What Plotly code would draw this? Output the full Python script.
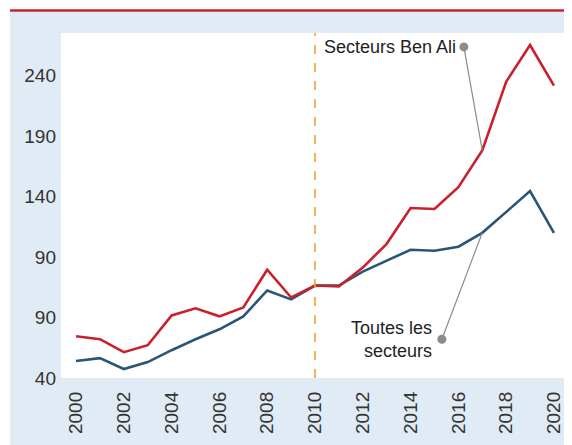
import plotly.graph_objects as go

# Indice, secteurs Ben Ali vs tous les secteurs
years = list(range(2000, 2021))
ben_ali = [74.5, 72.1, 61.4, 67.1, 91.8, 97.6, 91.0, 98.4, 129.6, 106.6, 116.5,
           115.7, 131.3, 151.0, 180.6, 179.8, 197.9, 228.3, 285.1, 315.5, 281.8]
toutes = [54.0, 56.4, 47.4, 53.2, 63.0, 72.1, 80.3, 91.0, 112.4, 105.0, 116.5,
          116.5, 128.0, 137.0, 146.1, 145.3, 148.6, 160.1, 177.3, 194.6, 160.1]
y_ticks = [40, 90, 140, 190, 240, 290]
y_labels = ["40", "90", "90", "140", "190", "240"]
x_ticks = list(range(2000, 2021, 2))

FONT = "Liberation Sans, Arial, sans-serif"
RED = "#c8202c"
BLUE = "#2a5576"
GREY = "#8c8c8c"

fig = go.Figure()
fig.add_trace(go.Scatter(x=years, y=toutes, mode="lines",
                         line=dict(color=BLUE, width=2.6), hoverinfo="skip"))
fig.add_trace(go.Scatter(x=years, y=ben_ali, mode="lines",
                         line=dict(color=RED, width=2.6), hoverinfo="skip"))

# leader lines + dots for labels
dot_ba = (2016.23, 313.9)
dot_ts = (2015.31, 72.1)
i17 = years.index(2017)
fig.add_shape(type="line", x0=dot_ba[0], y0=dot_ba[1], x1=2017, y1=ben_ali[i17],
              line=dict(color=GREY, width=1.2))
fig.add_shape(type="line", x0=dot_ts[0], y0=dot_ts[1], x1=2017, y1=toutes[i17],
              line=dict(color=GREY, width=1.2))
fig.add_trace(go.Scatter(x=[dot_ba[0], dot_ts[0]], y=[dot_ba[1], dot_ts[1]],
                         mode="markers", marker=dict(color=GREY, size=9),
                         hoverinfo="skip"))

fig.add_annotation(x=dot_ba[0], y=dot_ba[1], text="Secteurs Ben Ali",
                   showarrow=False, xanchor="right", yanchor="middle", xshift=-6,
                   font=dict(family=FONT, size=18, color="#222"))
fig.add_annotation(x=dot_ts[0], y=dot_ts[1], text="Toutes les<br>secteurs",
                   showarrow=False, xanchor="right", yanchor="middle", align="right",
                   xshift=-8, font=dict(family=FONT, size=18, color="#222"))

# panel background, white plot area, red rule on top, 2010 dashed line
fig.add_shape(type="rect", xref="paper", yref="paper", x0=-0.1004, x1=1.03,
              y0=-0.25, y1=1.0609, fillcolor="#e1ebf5", line_width=0, layer="below")
fig.add_shape(type="rect", xref="paper", yref="paper", x0=0, x1=1, y0=0, y1=1,
              fillcolor="white", line_width=0, layer="below")
fig.add_shape(type="line", xref="paper", yref="paper", x0=-0.1004, x1=1.03,
              y0=1.0652, y1=1.0652, line=dict(color=RED, width=2.5))
fig.add_shape(type="line", xref="x", yref="paper", x0=2010, x1=2010, y0=0, y1=1,
              line=dict(color="#f0a13a", width=1.6, dash="dash"))

# page body has an 8px margin, so the figure is nudged up/left to compensate
fig.update_layout(
    width=572, height=445,
    margin=dict(l=53, r=11, t=25, b=75),
    paper_bgcolor="white", plot_bgcolor="rgba(0,0,0,0)",
    showlegend=False,
    xaxis=dict(range=[1999.37, 2020.63], tickvals=x_ticks, tickangle=-90,
               showgrid=False, zeroline=False, showline=False, ticks="",
               ticklabelstandoff=9, automargin=False,
               tickfont=dict(family=FONT, size=19, color="#333")),
    yaxis=dict(range=[40, 325.4], tickvals=y_ticks, ticktext=y_labels,
               showgrid=False, zeroline=False, showline=False, ticks="",
               ticklabelstandoff=4, automargin=False,
               tickfont=dict(family=FONT, size=19, color="#333")),
)

fig.write_html("out.html")
